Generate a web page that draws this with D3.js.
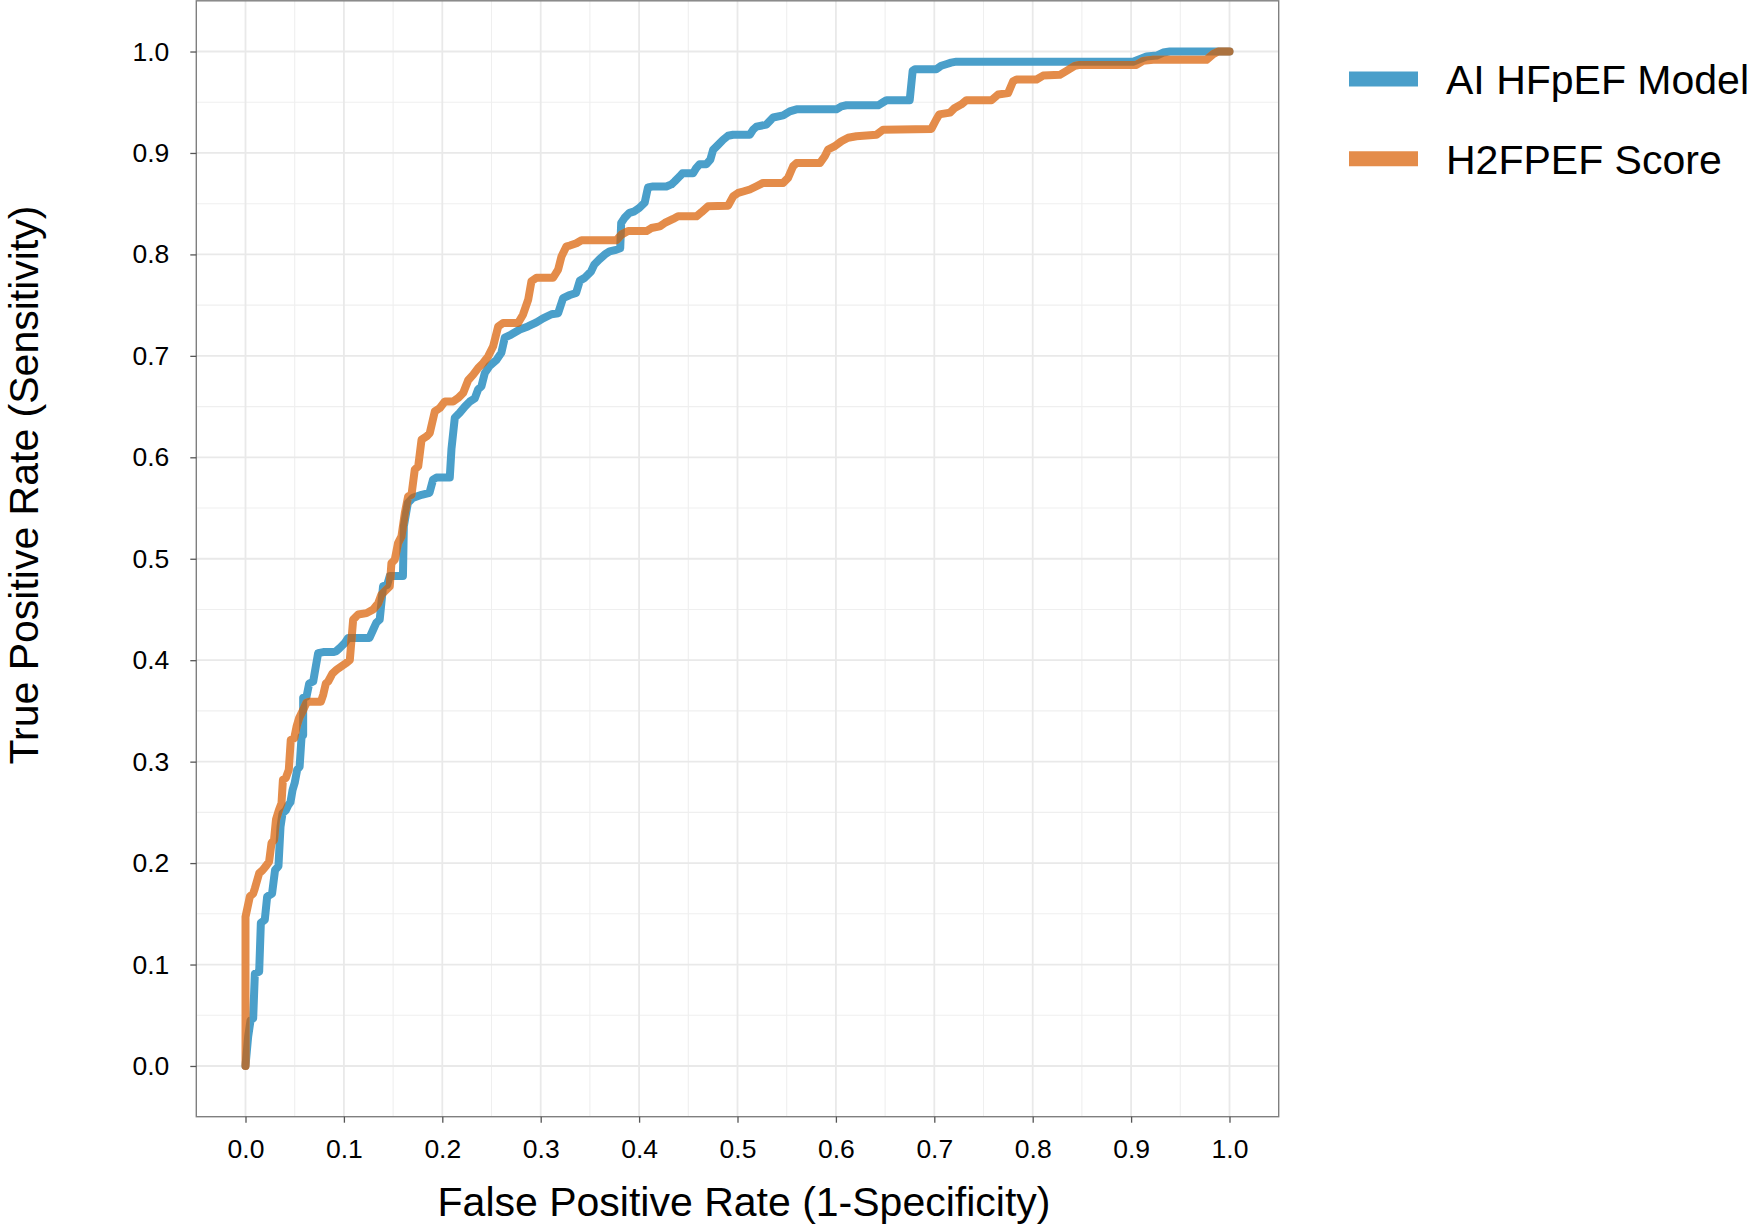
<!DOCTYPE html>
<html>
<head>
<meta charset="utf-8">
<script src="https://cdn.jsdelivr.net/npm/d3@7"></script>
<style>
    body { margin: 0; background: #fff; }
    text { font-family: "Liberation Sans", Arial, sans-serif; fill: #000; }
</style>
</head>
<body>
<div id="roc"></div>
<script>
// ROC curves
var aiFpr = [0, 0.0027, 0.0051, 0.0078, 0.0095, 0.0139, 0.0156, 0.0196, 0.022, 0.027, 0.030, 0.0335, 0.0356, 0.0376, 0.041, 0.0434, 0.0457, 0.0478, 0.050, 0.0525, 0.055, 0.057, 0.0586, 0.0586, 0.062, 0.0647, 0.0688, 0.0738, 0.079, 0.089, 0.0924, 0.0958, 0.101, 0.1043, 0.126, 0.1297, 0.133, 0.1364, 0.1398, 0.1439, 0.1466, 0.160, 0.1609, 0.165, 0.170, 0.179, 0.187, 0.1906, 0.194, 0.2076, 0.2093, 0.2127, 0.2178, 0.2229, 0.228, 0.233, 0.2364, 0.2398, 0.2432, 0.248, 0.255, 0.260, 0.2635, 0.270, 0.2788, 0.287, 0.2957, 0.3024, 0.311, 0.3177, 0.3228, 0.3296, 0.336, 0.3397, 0.3448, 0.351, 0.3545, 0.3595, 0.3652, 0.370, 0.3766, 0.3808, 0.3818, 0.3852, 0.3902, 0.3953, 0.4004, 0.4057, 0.409, 0.4142, 0.4277, 0.4328, 0.4362, 0.4413, 0.444, 0.4549, 0.458, 0.4616, 0.4684, 0.4724, 0.4752, 0.4803, 0.4854, 0.4904, 0.4955, 0.5125, 0.5159, 0.5193, 0.5294, 0.5362, 0.5464, 0.5531, 0.560, 0.6005, 0.6056, 0.6107, 0.643, 0.648, 0.6514, 0.675, 0.678, 0.6803, 0.702, 0.707, 0.712, 0.717, 0.7225, 0.902, 0.9156, 0.926, 0.9326, 0.9394, 1.0];
var aiTpr = [0, 0.029, 0.045, 0.047, 0.091, 0.093, 0.141, 0.144, 0.167, 0.170, 0.193, 0.197, 0.236, 0.249, 0.252, 0.257, 0.260, 0.272, 0.279, 0.292, 0.295, 0.325, 0.326, 0.363, 0.364, 0.377, 0.379, 0.407, 0.408, 0.408, 0.409, 0.412, 0.417, 0.422, 0.422, 0.430, 0.437, 0.440, 0.473, 0.474, 0.483, 0.483, 0.532, 0.555, 0.560, 0.563, 0.565, 0.578, 0.580, 0.580, 0.608, 0.639, 0.644, 0.650, 0.655, 0.658, 0.667, 0.670, 0.683, 0.690, 0.696, 0.703, 0.718, 0.721, 0.726, 0.729, 0.733, 0.737, 0.741, 0.742, 0.757, 0.760, 0.762, 0.774, 0.777, 0.783, 0.790, 0.795, 0.800, 0.803, 0.8045, 0.806, 0.831, 0.836, 0.841, 0.8425, 0.846, 0.851, 0.866, 0.867, 0.867, 0.869, 0.872, 0.877, 0.880, 0.880, 0.885, 0.889, 0.889, 0.8935, 0.903, 0.908, 0.913, 0.917, 0.918, 0.918, 0.923, 0.926, 0.928, 0.935, 0.937, 0.941, 0.943, 0.943, 0.946, 0.947, 0.947, 0.950, 0.952, 0.952, 0.981, 0.9826, 0.9826, 0.986, 0.9875, 0.989, 0.990, 0.990, 0.995, 0.996, 0.999, 1.0, 1.0];

var h2Fpr = [0, 0, 0.0044, 0.0078, 0.0095, 0.0139, 0.0173, 0.0207, 0.024, 0.0264, 0.029, 0.031, 0.034, 0.0366, 0.038, 0.041, 0.044, 0.046, 0.0495, 0.052, 0.0545, 0.0586, 0.062, 0.065, 0.0766, 0.079, 0.0816, 0.084, 0.0884, 0.0925, 0.0976, 0.102, 0.106, 0.1094, 0.1145, 0.123, 0.1297, 0.1348, 0.138, 0.1416, 0.1466, 0.1483, 0.1517, 0.155, 0.1585, 0.1619, 0.1653, 0.1687, 0.172, 0.1755, 0.1789, 0.184, 0.1873, 0.1924, 0.1975, 0.2026, 0.211, 0.216, 0.2212, 0.2263, 0.2314, 0.2364, 0.2415, 0.2466, 0.2517, 0.2568, 0.2618, 0.277, 0.282, 0.2873, 0.2906, 0.2957, 0.3126, 0.3177, 0.3211, 0.3262, 0.3296, 0.3363, 0.3415, 0.377, 0.382, 0.3888, 0.4075, 0.4125, 0.421, 0.4261, 0.4346, 0.4396, 0.4583, 0.4634, 0.4702, 0.4905, 0.4956, 0.5006, 0.5057, 0.5125, 0.5193, 0.526, 0.5464, 0.5514, 0.5565, 0.5599, 0.5837, 0.5887, 0.5921, 0.5989, 0.6056, 0.6124, 0.6209, 0.6412, 0.648, 0.697, 0.702, 0.705, 0.716, 0.7208, 0.7276, 0.7327, 0.7581, 0.7649, 0.775, 0.7801, 0.7835, 0.8039, 0.8106, 0.8276, 0.8344, 0.8428, 0.8479, 0.9054, 0.9122, 0.9224, 0.9766, 0.9834, 0.9885, 1.0];
var h2Tpr = [0, 0.147, 0.167, 0.170, 0.175, 0.190, 0.193, 0.197, 0.2015, 0.2196, 0.223, 0.243, 0.2525, 0.259, 0.282, 0.284, 0.292, 0.3215, 0.323, 0.335, 0.343, 0.351, 0.358, 0.359, 0.359, 0.366, 0.377, 0.379, 0.387, 0.3905, 0.394, 0.397, 0.400, 0.440, 0.445, 0.4464, 0.450, 0.456, 0.4645, 0.468, 0.4727, 0.4957, 0.499, 0.5155, 0.522, 0.545, 0.5615, 0.563, 0.5878, 0.591, 0.6174, 0.6206, 0.624, 0.6453, 0.6486, 0.655, 0.655, 0.6584, 0.6634, 0.676, 0.6815, 0.688, 0.693, 0.6995, 0.7094, 0.729, 0.7324, 0.7324, 0.7406, 0.7554, 0.7735, 0.777, 0.777, 0.785, 0.798, 0.808, 0.8087, 0.811, 0.814, 0.814, 0.8195, 0.823, 0.823, 0.826, 0.8277, 0.831, 0.835, 0.8376, 0.8376, 0.8416, 0.8475, 0.848, 0.8573, 0.8606, 0.862, 0.864, 0.8672, 0.8705, 0.8705, 0.8754, 0.8869, 0.890, 0.890, 0.8968, 0.9034, 0.9067, 0.9116, 0.915, 0.9165, 0.918, 0.923, 0.9237, 0.933, 0.938, 0.9398, 0.9444, 0.948, 0.952, 0.952, 0.9576, 0.959, 0.9707, 0.9724, 0.9724, 0.9763, 0.977, 0.981, 0.9858, 0.9868, 0.9868, 0.9908, 0.9918, 0.9918, 0.9974, 1.0, 1.0];

var seriesNames = ["AI HFpEF Model", "H2FPEF Score"];
var seriesColors = ["#4a9fca", "#e48c4a"];
var overlapColor = "#ab723f";
var majorTicks = [0, 0.1, 0.2, 0.3, 0.4, 0.5, 0.6, 0.7, 0.8, 0.9, 1.0];
var minorTicks = [0.05, 0.15, 0.25, 0.35, 0.45, 0.55, 0.65, 0.75, 0.85, 0.95];

var W = 1750, H = 1227;
var panel = {left: 196.3, right: 1278.7, top: 0.8, bottom: 1116.7};
var lineW = 8;

var x = d3.scaleLinear().domain([-0.05, 1.05]).range([panel.left, panel.right]);
var y = d3.scaleLinear().domain([-0.05, 1.05]).range([panel.bottom, panel.top]);

var svg = d3.select("#roc")
    .append("svg")
    .attr("width", W)
    .attr("height", H);

// grid
var grid = svg.append("g");
grid.selectAll(".vminor").data(minorTicks).enter().append("line")
    .attr("x1", function(d) { return x(d); }).attr("x2", function(d) { return x(d); })
    .attr("y1", panel.top).attr("y2", panel.bottom)
    .attr("stroke", "#efefef").attr("stroke-width", 1.1);
grid.selectAll(".hminor").data(minorTicks).enter().append("line")
    .attr("y1", function(d) { return y(d); }).attr("y2", function(d) { return y(d); })
    .attr("x1", panel.left).attr("x2", panel.right)
    .attr("stroke", "#efefef").attr("stroke-width", 1.1);
grid.selectAll(".vmajor").data(majorTicks).enter().append("line")
    .attr("x1", function(d) { return x(d); }).attr("x2", function(d) { return x(d); })
    .attr("y1", panel.top).attr("y2", panel.bottom)
    .attr("stroke", "#e9e9e9").attr("stroke-width", 1.8);
grid.selectAll(".hmajor").data(majorTicks).enter().append("line")
    .attr("y1", function(d) { return y(d); }).attr("y2", function(d) { return y(d); })
    .attr("x1", panel.left).attr("x2", panel.right)
    .attr("stroke", "#e9e9e9").attr("stroke-width", 1.8);

// curves
var line = d3.line()
    .x(function(d) { return x(d[0]); })
    .y(function(d) { return y(d[1]); });

var aiPts = d3.zip(aiFpr, aiTpr);
var h2Pts = d3.zip(h2Fpr, h2Tpr);

var defs = svg.append("defs");
var clip = defs.append("clipPath").attr("id", "panelClip");
clip.append("rect")
    .attr("x", panel.left).attr("y", panel.top)
    .attr("width", panel.right - panel.left).attr("height", panel.bottom - panel.top);

// overlap of the two strokes is shown darker, like in the figure
var mask = defs.append("mask").attr("id", "aiMask")
    .attr("maskUnits", "userSpaceOnUse")
    .attr("x", 0).attr("y", 0).attr("width", W).attr("height", H);
mask.append("path")
    .attr("d", line(aiPts))
    .attr("fill", "none").attr("stroke", "#fff")
    .attr("stroke-width", lineW).attr("stroke-linejoin", "round").attr("stroke-linecap", "round");

var curves = svg.append("g").attr("clip-path", "url(#panelClip)");
curves.append("path")
    .attr("d", line(aiPts))
    .attr("fill", "none").attr("stroke", seriesColors[0])
    .attr("stroke-width", lineW).attr("stroke-linejoin", "round").attr("stroke-linecap", "round");
curves.append("path")
    .attr("d", line(h2Pts))
    .attr("fill", "none").attr("stroke", seriesColors[1])
    .attr("stroke-width", lineW).attr("stroke-linejoin", "round").attr("stroke-linecap", "round");
curves.append("path")
    .attr("d", line(h2Pts))
    .attr("mask", "url(#aiMask)")
    .attr("fill", "none").attr("stroke", overlapColor)
    .attr("stroke-width", lineW).attr("stroke-linejoin", "round").attr("stroke-linecap", "round");

// panel border
svg.append("rect")
    .attr("x", panel.left).attr("y", panel.top)
    .attr("width", panel.right - panel.left).attr("height", panel.bottom - panel.top)
    .attr("fill", "none").attr("stroke", "#7f7f7f").attr("stroke-width", 1.4);

// axes
var fmt = d3.format(".1f");
var xAxis = svg.append("g")
    .attr("transform", "translate(0," + panel.bottom + ")")
    .call(d3.axisBottom(x).tickValues(majorTicks).tickFormat(fmt).tickSize(6).tickPadding(16));
var yAxis = svg.append("g")
    .attr("transform", "translate(" + panel.left + ",0)")
    .call(d3.axisLeft(y).tickValues(majorTicks).tickFormat(fmt).tickSize(6).tickPadding(21));
[xAxis, yAxis].forEach(function(a) {
    a.select(".domain").remove();
    a.selectAll(".tick line").attr("stroke", "#555").attr("stroke-width", 1.3);
    a.selectAll(".tick text")
        .style("font-family", "'Liberation Sans', Arial, sans-serif")
        .style("font-size", "26.5px")
        .attr("fill", "#000");
});

svg.append("text")
    .attr("x", 744).attr("y", 1216)
    .attr("text-anchor", "middle")
    .style("font-size", "41px")
    .text("False Positive Rate (1-Specificity)");

svg.append("text")
    .attr("transform", "translate(38,485)rotate(-90)")
    .attr("text-anchor", "middle")
    .style("font-size", "41px")
    .text("True Positive Rate (Sensitivity)");

// legend
var legendY = [79, 158.7];
var legend = svg.append("g");
legend.selectAll("line").data(seriesNames).enter().append("line")
    .attr("x1", 1349).attr("x2", 1418)
    .attr("y1", function(d, i) { return legendY[i]; })
    .attr("y2", function(d, i) { return legendY[i]; })
    .attr("stroke", function(d, i) { return seriesColors[i]; })
    .attr("stroke-width", 15);
legend.selectAll("text").data(seriesNames).enter().append("text")
    .attr("x", 1446)
    .attr("y", function(d, i) { return legendY[i] + 15; })
    .style("font-size", "41px")
    .text(function(d) { return d; });
</script>
</body>
</html>
